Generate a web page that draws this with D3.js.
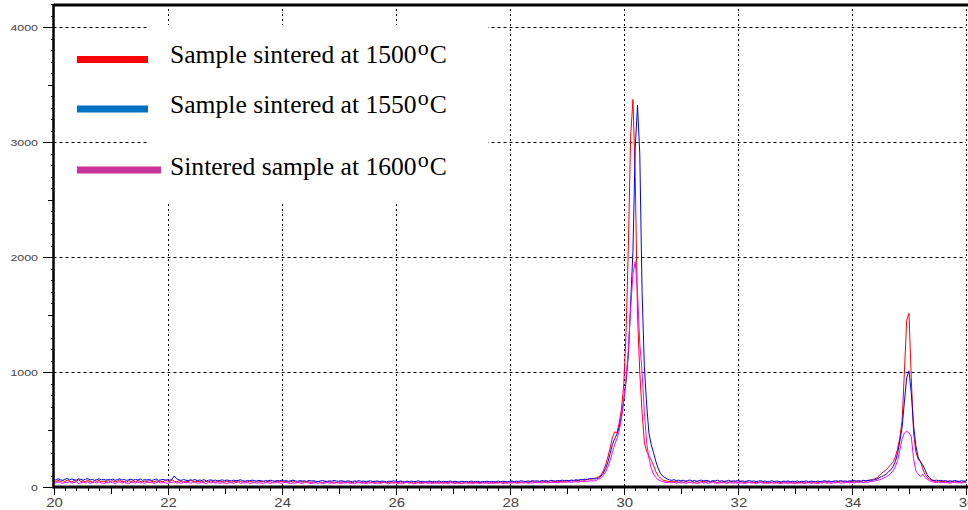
<!DOCTYPE html>
<meta charset="utf-8">
<script src="https://d3js.org/d3.v7.min.js"></script>
<body style="margin:0;background:#fff">
<div id="chart"></div>
<style>
  .tick line { stroke: #000; shape-rendering: crispEdges; }
  .lbl { font-family: "Liberation Sans", Arial, sans-serif; fill: #444; }
  .leg { font-family: "Liberation Serif", "Times New Roman", serif; fill: #000; }
</style>
<script>
// scan: 2-theta from 20 to 36 in 0.04 deg steps
var scanStart = 20, scanStep = 0.04;

var counts1500 = [
  52,45,58,49,55,47,60,51,44,56,50,62,48,53,46,57,50,43,55,49,58,45,52,47,54,
  48,56,44,51,59,46,50,42,55,48,53,45,57,49,44,52,47,56,50,43,54,48,51,45,58,
  53,47,62,50,45,55,48,42,52,46,57,49,44,51,47,54,42,49,45,53,47,41,50,44,48,
  43,51,46,40,49,44,53,47,41,48,43,50,45,39,47,52,44,48,42,50,46,41,49,44,47,
  50,43,48,41,46,52,44,40,47,43,49,42,45,38,46,41,48,43,39,45,42,47,40,44,38,
  45,41,47,39,44,42,38,46,40,43,37,45,41,48,39,43,40,46,38,42,44,37,41,45,39,
  43,38,46,40,36,44,41,39,45,37,42,40,35,43,39,46,38,41,36,44,40,37,42,39,45,
  38,43,36,41,45,39,35,42,40,37,44,38,41,36,43,39,45,37,42,40,38,44,41,36,43,
  40,45,38,42,37,44,41,46,39,43,48,41,45,40,47,43,49,44,41,48,45,51,46,50,47,
  52,48,55,51,58,54,60,63,58,66,70,68,75,80,90,105,140,190,260,340,430,480,470,560,680,
  900,1350,2100,3050,3370,2700,1500,1000,650,390,310,270,235,190,135,100,78,62,55,50,46,52,44,49,42,
  47,41,50,44,39,46,42,48,40,45,52,43,47,41,49,44,38,46,42,50,45,40,48,43,46,
  41,47,43,38,45,40,44,37,42,39,46,41,36,43,40,38,44,39,42,37,45,40,43,38,41,
  44,39,42,37,45,40,38,43,41,46,39,44,42,47,40,45,43,48,41,46,44,49,42,47,45,
  50,44,48,52,46,55,50,58,60,65,70,80,100,120,135,150,170,195,215,260,330,430,580,1000,1450,
  1510,950,480,310,240,225,160,110,85,68,58,52,48,55,46,51,44,49,42,47,43,50,45,41,48,
  44
];

var counts1550 = [
  68,60,72,63,58,66,75,62,70,64,59,71,65,60,68,73,61,66,58,64,70,62,67,59,65,
  62,69,58,64,71,60,66,57,63,68,59,65,61,70,58,64,60,67,56,63,69,58,62,66,60,
  64,58,70,96,72,62,57,65,60,55,63,58,66,54,61,57,64,52,59,62,56,60,53,58,62,
  55,61,57,52,60,54,58,63,55,50,57,53,60,56,51,58,54,49,56,52,59,55,50,57,53,
  58,52,56,50,55,60,53,49,56,51,54,48,57,52,55,50,47,53,56,51,48,54,50,57,52,
  49,55,51,47,54,50,46,53,49,56,48,52,45,51,54,47,50,53,46,52,49,45,51,48,54,
  50,46,53,48,44,51,47,52,45,49,54,46,50,43,48,52,45,49,47,53,44,50,46,48,52,
  45,50,47,43,51,46,49,44,52,47,45,50,43,48,46,51,44,49,47,45,52,46,50,48,44,
  49,53,46,51,48,55,50,47,53,49,56,51,54,48,57,52,55,50,58,54,51,57,53,60,56,
  58,54,61,57,63,59,65,62,68,66,72,75,70,72,80,95,120,160,215,290,370,420,460,520,620,
  760,920,1150,1600,2050,2950,3320,2900,1700,1050,720,470,370,300,225,165,120,95,82,70,62,58,64,55,60,
  53,59,50,56,61,52,57,49,55,60,51,58,54,48,56,52,59,50,55,47,53,58,49,54,51,
  56,50,54,47,52,57,49,53,46,51,55,48,52,45,50,54,47,51,49,44,52,48,53,46,50,
  47,52,45,50,48,53,46,51,49,44,52,47,50,55,48,53,46,51,54,49,56,50,53,48,55,
  51,57,52,55,50,58,54,56,60,58,65,70,82,90,100,112,130,150,175,220,290,400,520,740,950,
  1010,820,540,360,260,220,195,150,105,80,62,56,60,53,58,51,56,49,54,50,57,52,48,55,50,
  53
];

var counts1600 = [
  40,34,46,38,31,43,36,48,33,39,44,30,37,42,35,47,32,38,41,34,45,36,30,40,35,
  43,37,31,39,46,34,40,36,29,42,38,33,45,35,39,31,44,37,41,32,38,46,34,40,36,
  31,42,37,45,34,39,30,43,36,40,33,38,44,32,37,41,35,29,40,36,42,33,38,31,39,
  35,30,41,36,33,39,44,31,37,34,40,29,36,42,33,38,35,30,41,37,32,39,34,43,36,
  32,38,41,34,29,37,33,40,35,31,38,43,34,30,36,39,32,37,28,35,40,33,36,31,38,
  34,29,37,33,39,31,35,28,36,40,32,34,30,37,33,38,29,35,31,36,39,32,28,35,33,
  37,31,34,29,36,39,32,35,28,33,37,30,34,38,31,36,29,33,35,30,37,32,34,28,36,
  33,30,36,32,28,35,38,31,34,29,36,33,30,37,32,35,29,34,31,36,33,38,30,35,32,
  36,33,39,31,35,38,34,40,32,37,35,41,36,39,34,42,38,36,43,39,41,37,44,40,43,
  41,45,39,44,47,42,48,46,51,49,53,55,52,58,68,80,100,130,175,230,300,370,420,490,600,
  760,950,1200,1550,1850,1960,1700,1250,1000,650,390,250,165,112,82,65,55,48,42,38,44,36,41,34,39,
  35,40,32,37,42,33,38,30,36,41,34,39,31,37,43,35,32,38,34,40,30,36,39,33,37,
  32,38,35,30,36,41,33,37,29,35,39,32,36,30,34,38,31,35,33,29,37,34,31,36,33,
  30,35,32,37,29,34,38,31,36,33,30,37,34,39,32,36,31,38,35,40,33,37,35,41,36,
  39,35,41,37,43,39,44,42,46,48,52,58,63,68,78,88,100,118,140,175,230,320,420,470,485,
  470,440,250,140,115,92,110,85,68,55,48,42,38,44,36,41,35,40,33,38,42,35,39,34,40,
  37
];

var xTicks = [20, 22, 24, 26, 28, 30, 32, 34, 36];
var yTicks = [0, 1000, 2000, 3000, 4000];
var lineColors = ["#ff0000", "#0000ff", "#ff00ff"];
var legendColors = ["#ff0000", "#0070c0", "#cc3399"];
var legendLabels = ["Sample sintered at 1500", "Sample sintered at 1550", "Sintered sample at 1600"];

var width = 968, height = 510;
var margin = {top: 4, right: 2, bottom: 23, left: 53.5};

var svg = d3.select("#chart").append("svg")
    .attr("width", width)
    .attr("height", height);

var x = d3.scaleLinear().domain([20, 36]).range([margin.left, width - margin.right]);
var y = d3.scaleLinear().domain([0, 4200]).range([height - margin.bottom, margin.top]);

// grid
svg.append("g").selectAll("line")
  .data(xTicks.slice(1))
  .enter().append("line")
    .attr("x1", d => Math.round(x(d)) + 0.5).attr("x2", d => Math.round(x(d)) + 0.5)
    .attr("y1", y(4200)).attr("y2", y(0))
    .attr("stroke", "#000").attr("stroke-dasharray", "2,3");
svg.append("g").selectAll("line")
  .data(yTicks.slice(1))
  .enter().append("line")
    .attr("x1", x(20)).attr("x2", x(36))
    .attr("y1", d => Math.round(y(d)) + 0.5).attr("y2", d => Math.round(y(d)) + 0.5)
    .attr("stroke", "#000").attr("stroke-dasharray", "3,3");

// y axis ticks: minor / half / major
function yAxis(vals, size) {
  svg.append("g")
    .attr("transform", "translate(" + margin.left + ",0)")
    .call(d3.axisLeft(y).tickValues(vals).tickSize(size).tickFormat(""))
    .call(g => g.select(".domain").remove());
}
yAxis(d3.range(0, 4201, 100), 3);
yAxis(d3.range(500, 4201, 1000), 6);
yAxis(yTicks, 11);

function xAxis(vals, size) {
  svg.append("g")
    .attr("transform", "translate(0," + y(0) + ")")
    .call(d3.axisBottom(x).tickValues(vals).tickSize(size).tickFormat(""))
    .call(g => g.select(".domain").remove());
}
xAxis(d3.range(0, 81).map(i => 20 + i * 0.2), 4);
xAxis(d3.range(21, 36, 2), 7);
xAxis(xTicks, 8);

// tick labels (glyphs are horizontally stretched in the original)
svg.append("g").selectAll("text")
  .data(yTicks)
  .enter().append("text")
    .attr("class", "lbl")
    .attr("text-anchor", "end")
    .attr("font-size", 9)
    .attr("transform", d => "translate(38," + (y(d) + 3.5) + ") scale(1.38,1)")
    .text(d => d);
svg.append("g").selectAll("text")
  .data(xTicks)
  .enter().append("text")
    .attr("class", "lbl")
    .attr("text-anchor", "middle")
    .attr("font-size", 13)
    .attr("transform", d => "translate(" + (x(d) + 1) + ",507) scale(1.15,1)")
    .text(d => d);

// data lines
var line = d3.line()
    .x((d, i) => x(scanStart + i * scanStep))
    .y(d => y(d));

[counts1500, counts1550, counts1600].forEach(function(s, k) {
  svg.append("path")
    .datum(s)
    .attr("fill", "none")
    .attr("stroke", lineColors[k])
    .attr("stroke-width", 1)
    .attr("d", line);
});

// frame lines
svg.append("line").attr("x1", margin.left).attr("x2", width).attr("y1", 5).attr("y2", 5)
  .attr("stroke", "#000").attr("stroke-width", 3);
svg.append("line").attr("x1", margin.left).attr("x2", width).attr("y1", y(0)).attr("y2", y(0))
  .attr("stroke", "#000").attr("stroke-width", 3);
svg.append("line").attr("x1", margin.left).attr("x2", margin.left).attr("y1", 4).attr("y2", y(0) + 1.5)
  .attr("stroke", "#000").attr("stroke-width", 2.5);

// legend
svg.append("rect").attr("x", 148).attr("y", 25).attr("width", 340).attr("height", 177).attr("fill", "#fff");
var legY = [59.5, 109, 170];
var legEnd = [148, 148, 161];
var txtY = [62.7, 112.7, 175];
legendLabels.forEach(function(lab, k) {
  svg.append("line")
    .attr("x1", 77).attr("x2", legEnd[k])
    .attr("y1", legY[k]).attr("y2", legY[k])
    .attr("stroke", legendColors[k]).attr("stroke-width", 7);
  var t = svg.append("text").attr("class", "leg")
    .attr("x", 170).attr("y", txtY[k]).attr("font-size", 25.6);
  t.append("tspan").text(lab);
  t.append("tspan").attr("font-size", 22).attr("dx", 1).attr("dy", -8).text("o");
  t.append("tspan").attr("dx", 1).attr("dy", 8).text("C");
});
</script>
</body>
